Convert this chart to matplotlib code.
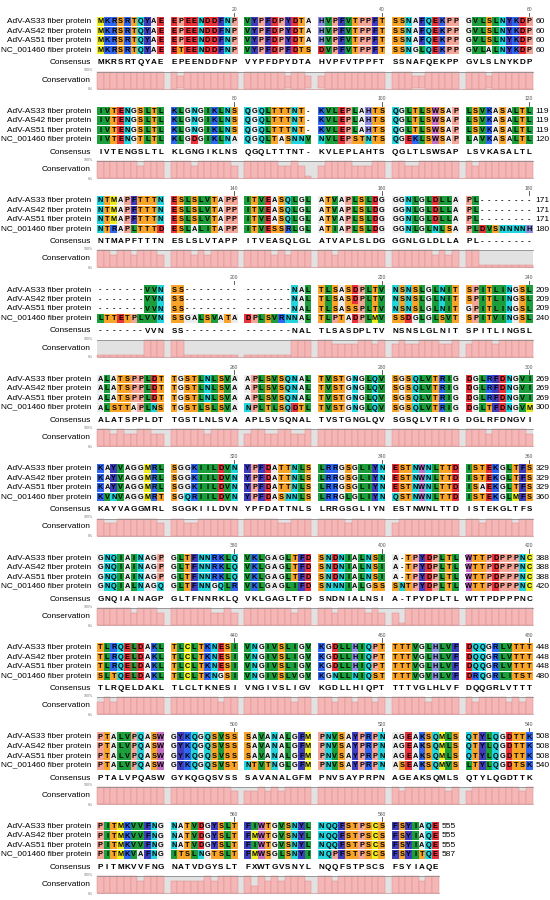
import matplotlib
matplotlib.use('Agg')
import matplotlib.pyplot as plt

plt.rcParams['font.family'] = ['Liberation Sans', 'DejaVu Sans']

NAMES = ['AdV-AS33 fiber protein', 'AdV-AS42 fiber protein',
         'AdV-AS51 fiber protein', 'NC_001460 fiber protein']

AS33 = [
    "MKRSRTQYAE EPEENDDFNP VYPFDPYDTA HVPFVTPPFT SSNAFQEKPP GVLSLNYKDP",
    "IVTENGSLTL KLGNGIKLNS QGQLTTTNT- KVLEPLAHTS QGLTLSWSAP LSVKASALTL",
    "NTMAPFTTTN ESLSLVTAPP ITVEASQLGL ATVAPLSLDG GGNLGLDLLA PL--------",
    "-------VVN SS-------- -------NAL TLSASDPLTV NSNSLGLNIT SPITLINGSL",
    "ALATSPPLDT TGSTLNLSVA APLSVSQNAL TVSTGNGLQV SGSQLVTRIG DGLRFDNGVI",
    "KAYVAGGMRL SGGKIILDVN YPFDATTNLS LRRGSGLIYN ESTNWNLTTD ISTEKGLTFS",
    "GNQIAINAGP GLTFNNRKLQ VKLGAGLTFD SNDNIALNSI A-TPYDPLTL WTTPDPPPNC",
    "TLRQELDAKL TLCLTKNESI VNGIVSLIGV KGDLLHIQPT TTTVGLHLVF DQQGRLVTTT",
    "PTALVPQASW GYKQGQSVSS SAVANALGFM PNVSAYPRPN AGEAKSQMLS QTYLQGDTTK",
    "PITMKVVFNG NATVDGYSLT FIWTGVSNYL NQQFSTPSCS FSYIAQE",
]
AS42 = [
    "MKRSRTQYAE EPEENDDFNP VYPFDPYDTA HVPFVTPPFT SSNAFQEKPP GVLSLNYKDP",
    "IVTENGSLTL KLGNGIKLNS QGQLTTTNT- KVLEPLAHTS QGLTLSWSAP LSVKASALTL",
    "NTMAPFTTTN ESLSLVTAPP ITVEASQLGL ATVAPLSLDG GGNLGLDLLA PL--------",
    "-------VVN SS-------- -------NAL TLSASDPLTV NSNSLGLNIT SPITLINGSL",
    "ALATSPPLDT TGSTLNLSVA APLSVSQNAL TVSTGNGLQV SGSQLVTRIG DGLRFDNGVI",
    "KAYVAGGMRL SGGKIILDVN YPFDATTNLS LRRGSGLIYN ESTNWNLTTD ISTEKGLTFS",
    "GNQIAINAGP GLTFNNRKLQ VKLGAGLTFD SNDNIALNSI A-TPYDPLTL WTTPDPPPNC",
    "TLRQELDAKL TLCLTKNESI VNGIVSLIGV KGDLLHIQPT TTTVGLHLVF DQQGRLVTTT",
    "PTALVPQASW GYKQGQSVSS SAVANALGFM PNVSAYPRPN AGEAKSQMLS QTYLQGDTTK",
    "PITMKVVFNG NATVDGYSLT FMWTGVSNYL NQQFSTPSCS FSYIAQE",
]
AS51 = [
    "MKRSRTQYAE EPEENDDFNP VYPFDPYDTA HVPFVTPPFT SSNAFQEKPP GVLSLNYKDP",
    "IVTENGSLTL KLGNGIKLNS QGQLTTTNT- KVLEPLAHTS QGLTLSWSAP LSVKASALTL",
    "NTMAPFTTTN ESLSLVTAPP ITVEASQLGL ATVAPLSLDG GGNLGLDLLA PL--------",
    "-------VVN SS-------- -------NAL TLSASSPLTV NSNSLGLNIT GPITLINGSL",
    "ALATSPPLDT TGSTLNLSVA APLSVSQNAL TVSTGNGLQV SGSQLVTRIG DGLRFDNGVI",
    "KAYVAGGMRL SGGKIILDVN YPFDATTNLS LRRGSGLIYN ESTNWNLTTD ISAEKGLTFS",
    "GNQIAINAGP GLTFNNRKLQ VKLGAGLTFD SNDNIALNSI A-TPYDPLTL WTTPDPPPNC",
    "TLRQELDAKL TLCLTKNESI VNGIVSLIGV KGDLLHIQPT TTTVGLHLVF DQQGRLVTTT",
    "PTALVPQASW GYKQGQSVSS SAVANALGFM PNVSAYPRPN AGEAKSQMLS QTYLQGDTTK",
    "PITMKVVFNG NATVDGYSLT FIWTGVSNYL NQQFSTPSCS FSYIAQE",
]
NC001460 = [
    "MKRSRTQYAE ETEENDDFNP VYPFDPFDTS DVPFVTPPFT SSNGLQEKPP GVLALNYKDP",
    "IVTENGTLTL KLGDGIKLNA QGQLTASNNV NVLEPSTNTS QGEKLSWSAP LAVKASALTL",
    "NTRAPLTTTD ESLALITAPP ITVESSRLGL ATIAPLSLDG GGNLGLNLSA PLDVSNNNNH",
    "LTTETPLVVN SSGALSVATA DPLSVRNNAL TLPTADPLMV SSDGLGLSVT SPITVINGSL",
    "ALSTTAPLNS TGSTLSLSVA NPLTLSQDTL TVSTGNGLQV SGSQLVTRIG DGLTFDNGVM",
    "KVNVAGGMRT SGQRIILDVN YPFDASNNLS LRRGLGLIYN QSTNWNLTTD ISTEKGLMFS",
    "GNQIALNAGQ GLTFNNGQLR VKLGAGLIFD SNNNIALGSS SNTPYDPLTL WTTPDPPPNC",
    "SLTQELDAKL TLCLTKNGSI VNGIVSLVGV KGNLLNIQST TTTVGVHLVF DRQGRLITST",
    "PTALVPQASW GYKQGQSVST NTVTNGLGFM PNVSAYPRPN ASEAKSQMVS LTYLQGDTSK",
    "PITMKVAFNG ITSLNGTSLT FMWSGLSNYI NQPFSTPSCS FSYITQE",
]
CONSENSUS = [
    "MKRSRTQYAE EPEENDDFNP VYPFDPYDTA HVPFVTPPFT SSNAFQEKPP GVLSLNYKDP",
    "IVTENGSLTL KLGNGIKLNS QGQLTTTNT- KVLEPLAHTS QGLTLSWSAP LSVKASALTL",
    "NTMAPFTTTN ESLSLVTAPP ITVEASQLGL ATVAPLSLDG GGNLGLDLLA PL--------",
    "-------VVN SS-------- -------NAL TLSASDPLTV NSNSLGLNIT SPITLINGSL",
    "ALATSPPLDT TGSTLNLSVA APLSVSQNAL TVSTGNGLQV SGSQLVTRIG DGLRFDNGVI",
    "KAYVAGGMRL SGGKIILDVN YPFDATTNLS LRRGSGLIYN ESTNWNLTTD ISTEKGLTFS",
    "GNQIAINAGP GLTFNNRKLQ VKLGAGLTFD SNDNIALNSI A-TPYDPLTL WTTPDPPPNC",
    "TLRQELDAKL TLCLTKNESI VNGIVSLIGV KGDLLHIQPT TTTVGLHLVF DQQGRLVTTT",
    "PTALVPQASW GYKQGQSVSS SAVANALGFM PNVSAYPRPN AGEAKSQMLS QTYLQGDTTK",
    "PITMKVVFNG NATVDGYSLT FXWTGVSNYL NQQFSTPSCS FSYIAQE",
]
END_NUMBERS = [
    [60, 60, 60, 60], [119, 119, 119, 120], [171, 171, 171, 180],
    [209, 209, 209, 240], [269, 269, 269, 300], [329, 329, 329, 360],
    [388, 388, 388, 420], [448, 448, 448, 480], [508, 508, 508, 540],
    [555, 555, 555, 587],
]
RULER = [20, 40, 60, 80, 100, 120, 140, 160, 180, 200, 220, 240, 260, 280, 300,
         320, 340, 360, 380, 400, 420, 440, 460, 480, 500, 520, 540, 560, 580]

# Rasmol-like residue colours
RES_COLOR = {}
for aa, col in [('DE', '#e8323a'), ('KR', '#2f66f2'), ('FY', '#3d3dbe'),
                ('H', '#8c8ce0'), ('NQ', '#22d4dc'), ('ST', '#f8a428'),
                ('LVI', '#1c9e3c'), ('MC', '#ecec1e'), ('P', '#f2a496'),
                ('W', '#c26ec6'), ('AG', '#ececec')]:
    for ch in aa:
        RES_COLOR[ch] = col

# bar height per number of identical residues in a column
CONS_LEVEL = {4: 1.0, 3: 0.72, 2: 0.43, 1: 0.12, 0: 0.0}

X0 = 97.0      # left edge of first residue column (px)
W = 6.7        # column width (px)
BLOCK_DY = 89.4
ROW_DY = 9.5
Y_FIRST = 21.5


def col_x(c):
    return X0 + (c + c // 10) * W


fig = plt.figure(figsize=(5.5, 9), dpi=100)
ax = fig.add_axes([0, 0, 1, 1])
ax.set_xlim(0, 550)
ax.set_ylim(900, 0)
ax.axis('off')

all_seqs = [AS33, AS42, AS51, NC001460]

for b in range(10):
    y1 = Y_FIRST + BLOCK_DY * b
    rows = [s[b].replace(' ', '') for s in all_seqs]
    n = len(rows[0])
    xs = [col_x(c) for c in range(n)]
    x_end = xs[-1] + W

    # sequence rows
    for r, s in enumerate(rows):
        yc = y1 + r * ROW_DY
        colors = [RES_COLOR.get(ch, (1, 1, 1, 0)) for ch in s]
        ax.bar(xs, 8.6, bottom=yc - 4.3, width=W, align='edge',
               color=colors, linewidth=0)
        for x, ch in zip(xs, s):
            ax.text(x + W / 2, yc + 0.4, ch, ha='center', va='center',
                    fontsize=5.3, fontweight='bold', color='black')
        ax.text(91, yc + 0.3, NAMES[r], ha='right', va='center', fontsize=5.95)
        ax.text(x_end + 3, yc + 0.3, str(END_NUMBERS[b][r]), ha='left',
                va='center', fontsize=6.0)

    # consensus
    yc = y1 + 41
    cons = CONSENSUS[b].replace(' ', '')
    for x, ch in zip(xs, cons):
        ax.text(x + W / 2, yc + 0.4, ch, ha='center', va='center',
                fontsize=5.9, fontweight='bold', color='black')
    ax.text(91, yc + 0.3, 'Consensus', ha='right', va='center', fontsize=5.95)

    # conservation
    top, bot = y1 + 50, y1 + 67
    ax.bar([X0], bot - top, bottom=top, width=x_end - X0, align='edge',
           color='#e2e2e2', linewidth=0)
    heights = []
    for c in range(n):
        col = [s[c] for s in rows if s[c] != '-']
        best = max([col.count(ch) for ch in set(col)] + [0])
        heights.append(CONS_LEVEL[best] * (bot - top))
    ax.bar(xs, heights, bottom=[bot - h for h in heights], width=W,
           align='edge', color='#f5b6b6', edgecolor='#de8e8e', linewidth=0.35)
    ax.plot([X0, x_end], [top, top], color='#8c8c8c', lw=0.6)
    ax.plot([X0, x_end], [bot, bot], color='#c98a8a', lw=0.5)
    ax.text(91, (top + bot) / 2, 'Conservation', ha='right', va='center',
            fontsize=5.95)
    ax.text(93, top - 1.2, '100%', ha='right', va='center', fontsize=2.6,
            color='#777777')
    ax.text(93, bot + 0.8, '0%', ha='right', va='center', fontsize=2.6,
            color='#777777')

# ruler
for m in RULER:
    b, c = (m - 1) // 60, (m - 1) % 60
    y1 = Y_FIRST + BLOCK_DY * b
    x = col_x(c) + W / 2
    ax.text(x, y1 - 12, str(m), ha='center', va='center', fontsize=3.6,
            color='#555555')
    ax.plot([x, x], [y1 - 9, y1 - 5.3], color='#444444', lw=0.6)

fig.savefig('out.png', dpi=100, facecolor='white')
